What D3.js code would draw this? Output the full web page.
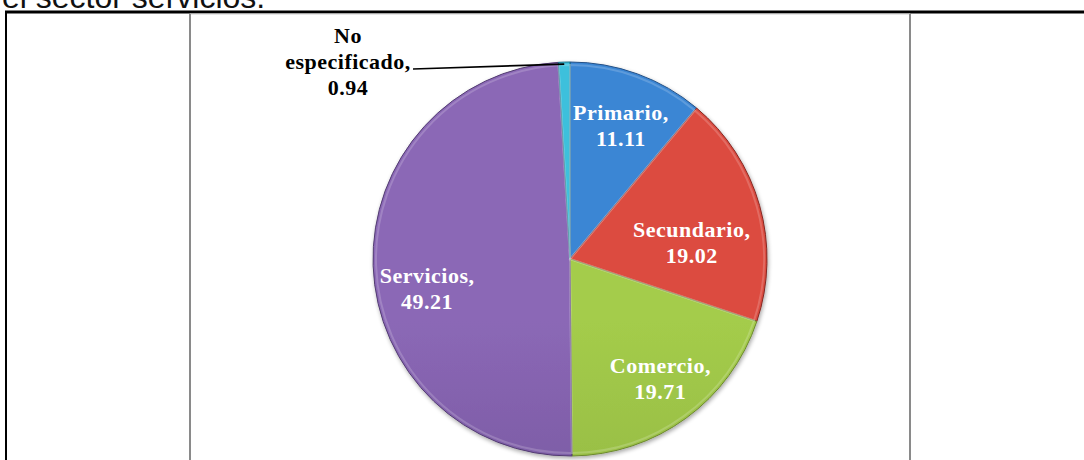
<!DOCTYPE html>
<html>
<head>
<meta charset="utf-8">
<script src="https://cdn.jsdelivr.net/npm/d3@7"></script>
<style>
  body { margin: 0; background: #fff; }
  svg { display: block; }
</style>
</head>
<body>
<div id="chart"></div>
<script>
// sector data
var sectors = ["Primario", "Secundario", "Comercio", "Servicios", "No especificado"];
var shares = [11.11, 19.02, 19.71, 49.21, 0.94];
var topColors = ["#3b86d4", "#dc4c3f", "#a4cc4b", "#8b68b6", "#3cc0dc"];
var bottomColors = ["#2a62a6", "#a5302a", "#86a83a", "#664a8c", "#1a8aa6"];

var W = 1084, H = 460;
var cx = 570, cy = 259, R = 197;

var svg = d3.select("#chart").append("svg")
    .attr("width", W)
    .attr("height", H);

// cropped document text above the table
svg.append("text")
    .attr("x", 2)
    .attr("y", 8)
    .style("font-family", "'Liberation Sans', Arial, sans-serif")
    .style("font-size", "32px")
    .style("fill", "#111")
    .text("el sector servicios.");

// table borders
svg.append("line")
    .attr("x1", 5).attr("x2", W)
    .attr("y1", 12).attr("y2", 12)
    .style("stroke", "#000").style("stroke-width", 3);
svg.append("line")
    .attr("x1", 6).attr("x2", 6)
    .attr("y1", 11).attr("y2", H)
    .style("stroke", "#000").style("stroke-width", 2);

// chart frame
svg.append("line")
    .attr("x1", 190).attr("x2", 910)
    .attr("y1", 14).attr("y2", 14)
    .style("stroke", "#cfcfcf").style("stroke-width", 1);
svg.selectAll("line.frame")
    .data([190, 910])
    .enter()
    .append("line")
    .classed("frame", true)
    .attr("x1", function (d) { return d; })
    .attr("x2", function (d) { return d; })
    .attr("y1", 14).attr("y2", H)
    .style("stroke", "#8a8a8a").style("stroke-width", 2);

var defs = svg.append("defs");

sectors.forEach(function (s, i) {
    var g = defs.append("linearGradient")
        .attr("id", "grad" + i)
        .attr("gradientUnits", "userSpaceOnUse")
        .attr("x1", 0).attr("y1", cy - R)
        .attr("x2", 0).attr("y2", cy + R);
    g.append("stop").attr("offset", "0%").attr("stop-color", topColors[i]);
    g.append("stop").attr("offset", "100%").attr("stop-color", bottomColors[i]);
});

var shadow = defs.append("filter")
    .attr("id", "shadow")
    .attr("x", "-10%").attr("y", "-10%")
    .attr("width", "120%").attr("height", "120%");
shadow.append("feGaussianBlur").attr("in", "SourceAlpha").attr("stdDeviation", 2);
shadow.append("feOffset").attr("dx", 1).attr("dy", 2).attr("result", "blur");
shadow.append("feComponentTransfer")
    .append("feFuncA").attr("type", "linear").attr("slope", 0.35);
var merge = shadow.append("feMerge");
merge.append("feMergeNode");
merge.append("feMergeNode").attr("in", "SourceGraphic");

var pie = d3.pie()
    .sort(null)
    .value(function (d) { return d; });

var arc = d3.arc()
    .innerRadius(0)
    .outerRadius(R);

var arcs = pie(shares);

var chart = svg.append("g")
    .attr("transform", "translate(" + cx + "," + cy + ")");

chart.append("g")
    .attr("filter", "url(#shadow)")
    .selectAll("path.slice")
    .data(arcs)
    .enter()
    .append("path")
    .classed("slice", true)
    .attr("d", arc)
    .style("fill", function (d, i) { return "url(#grad" + i + ")"; })
    .style("stroke", function (d, i) { return d3.color(bottomColors[i]).darker(0.6); })
    .style("stroke-width", 1)
    .style("stroke-linejoin", "round");

// soft inner bevel highlight on each slice
var bevel = d3.arc().innerRadius(0).outerRadius(R - 3);
chart.selectAll("path.bevel")
    .data(arcs)
    .enter()
    .append("path")
    .classed("bevel", true)
    .attr("d", bevel)
    .style("fill", "none")
    .style("stroke", "#fff")
    .style("stroke-opacity", 0.18)
    .style("stroke-width", 2);

// labels
var labelArc = d3.arc().innerRadius(140).outerRadius(140);
var nudge = {
    "Primario": [3, -7],
    "Secundario": [-13, 16],
    "Comercio": [8, 1],
    "Servicios": [-3, 19]
};
var lineH = 26;

chart.selectAll("text.label")
    .data(arcs.filter(function (d, i) { return sectors[i] !== "No especificado"; }))
    .enter()
    .append("text")
    .classed("label", true)
    .attr("text-anchor", "middle")
    .style("font-family", "'Liberation Serif', 'Times New Roman', serif")
    .style("font-weight", "bold")
    .style("font-size", "22px")
    .style("letter-spacing", "0.5px")
    .style("fill", "#fff")
    .each(function (d) {
        var name = sectors[d.index];
        var c = labelArc.centroid(d);
        var x = c[0] + nudge[name][0], y = c[1] + nudge[name][1];
        var t = d3.select(this);
        t.append("tspan").attr("x", x).attr("y", y).text(name + ",");
        t.append("tspan").attr("x", x).attr("y", y + lineH).text(shares[d.index].toFixed(2));
    });

// outside label with leader for the small slice
var small = arcs[sectors.indexOf("No especificado")];
var ang = (small.startAngle + small.endAngle) / 2;
var tip = [Math.sin(ang) * (R - 2), -Math.cos(ang) * (R - 2)];
var lx = -222, ly = -216;

chart.append("line")
    .attr("x1", lx + 65).attr("y1", ly + 26)
    .attr("x2", tip[0]).attr("y2", tip[1])
    .style("stroke", "#000")
    .style("stroke-width", 1.6);

var outside = chart.append("text")
    .attr("text-anchor", "middle")
    .style("font-family", "'Liberation Serif', 'Times New Roman', serif")
    .style("font-weight", "bold")
    .style("font-size", "22px")
    .style("letter-spacing", "0.5px")
    .style("fill", "#000");
outside.append("tspan").attr("x", lx).attr("y", ly).text("No");
outside.append("tspan").attr("x", lx).attr("y", ly + lineH).text("especificado,");
outside.append("tspan").attr("x", lx).attr("y", ly + 2 * lineH).text(shares[small.index].toFixed(2));
</script>
</body>
</html>
